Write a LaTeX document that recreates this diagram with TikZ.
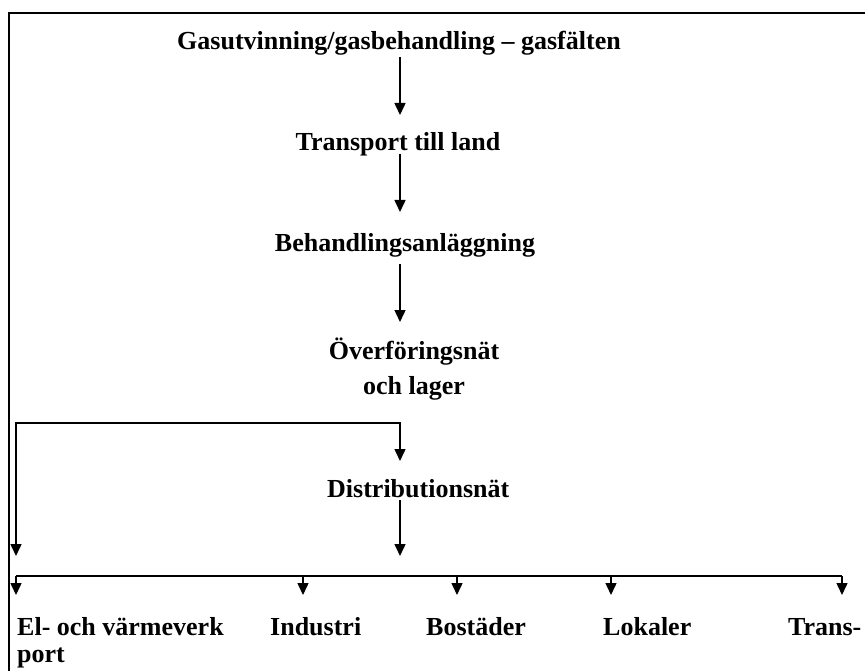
\documentclass[tikz,border=0pt]{standalone}
\usepackage{fontspec}
\setmainfont{Liberation Serif}
\usetikzlibrary{arrows.meta}
\begin{document}
\begin{tikzpicture}[x=1pt,y=-1pt,
  lbl/.style={inner sep=0pt,font=\bfseries\fontsize{26}{35}\selectfont},
  arr/.style={line width=1.5pt,-{Triangle[length=12pt,width=11pt]}},
  bothends/.style={line width=1.5pt,{Triangle[length=12pt,width=11pt]}-{Triangle[length=12pt,width=11pt]}},
  line/.style={line width=1.5pt},
  frameline/.style={line width=2.2pt}]
\useasboundingbox (0,0) rectangle (865,671);
% frame
\draw[frameline] (9,680) -- (9,13) -- (875,13);
% main column
\node[lbl,anchor=base] (gas) at (399,50) {Gasutvinning/gasbehandling – gasfälten};
\node[lbl,anchor=base] (tra) at (398,151) {Transport till land};
\node[lbl,anchor=base] (beh) at (405,252) {Behandlingsanläggning};
\node[lbl,anchor=base,align=center] (ovf) at (414,394) {Överföringsnät\\och lager};
\node[lbl,anchor=base west] (dis) at (327,497) {Distributionsnät};
% consumers
\node[lbl,anchor=base west] (el) at (17,635) {El- och värmeverk};
\node[lbl,anchor=base west] (ind) at (270,635) {Industri};
\node[lbl,anchor=base west] (bos) at (426,635) {Bostäder};
\node[lbl,anchor=base west] (lok) at (603,635) {Lokaler};
\node[lbl,anchor=base west] (trn) at (788,635) {Trans-};
\node[lbl,anchor=base west] (port) at (17,662) {port};
% coordinates
\coordinate (a1s) at (400,57);  \coordinate (a1e) at (400,115);
\coordinate (a2s) at (400,154); \coordinate (a2e) at (400,212);
\coordinate (a3s) at (400,264); \coordinate (a3e) at (400,322);
\coordinate (bl) at (16,556);   \coordinate (bc) at (400,423); \coordinate (bm) at (400,461);
\coordinate (a4s) at (400,500); \coordinate (a4e) at (400,556);
\coordinate (busl) at (16,576); \coordinate (busr) at (842,576);
% arrows
\draw[arr] (a1s) -- (a1e);
\draw[arr] (a2s) -- (a2e);
\draw[arr] (a3s) -- (a3e);
\draw[bothends] (bl) |- (bc) -- (bm);
\draw[arr] (a4s) -- (a4e);
\draw[line] (busl) -- (busr);
\foreach \x in {16,303,457,611,842}{
  \draw[arr] (\x,576) -- (\x,595);
}
\end{tikzpicture}
\end{document}
